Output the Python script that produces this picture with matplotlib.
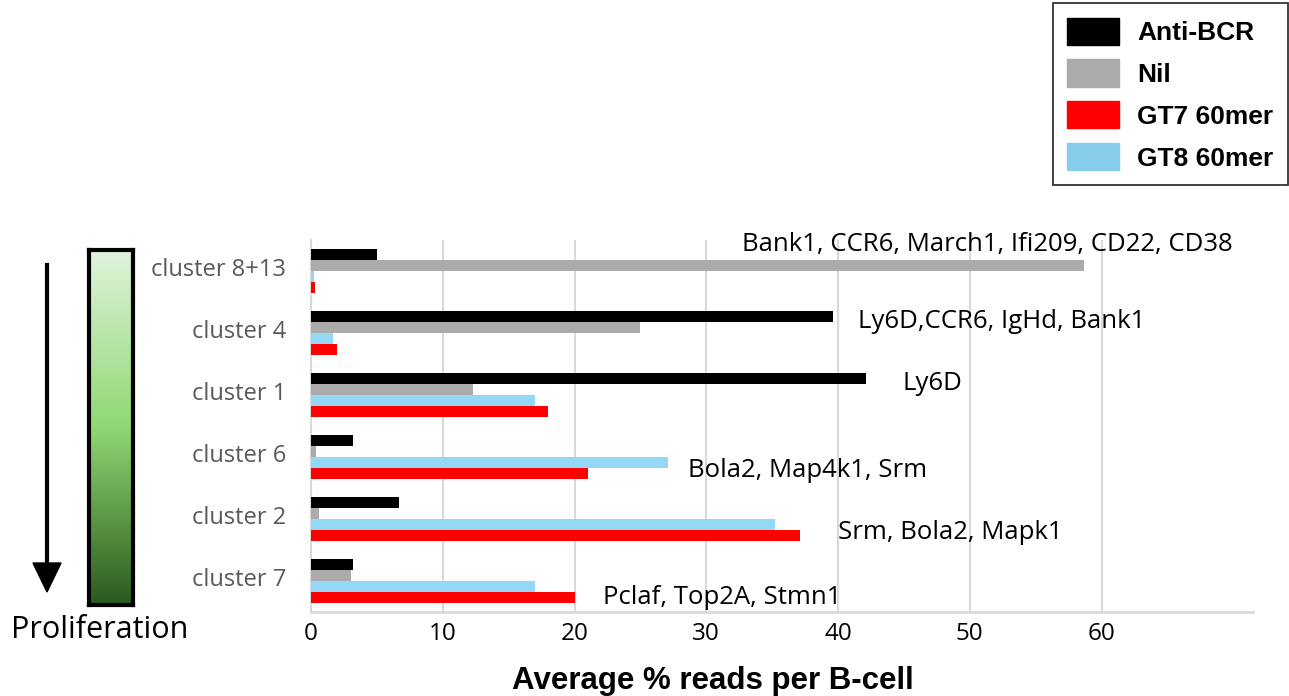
import matplotlib.pyplot as plt
import numpy as np
from matplotlib.colors import LinearSegmentedColormap
from matplotlib.patches import Patch

clusters = ["cluster 8+13", "cluster 4", "cluster 1", "cluster 6", "cluster 2", "cluster 7"]
anti_bcr = [5.0, 39.6, 42.1, 3.2, 6.7, 3.2]
nil = [58.7, 25.0, 12.3, 0.4, 0.6, 3.0]
gt8 = [0.2, 1.7, 17.0, 27.1, 35.2, 17.0]
gt7 = [0.3, 2.0, 18.0, 21.0, 37.1, 20.0]
genes = ["Bank1, CCR6, March1, Ifi209, CD22, CD38", "Ly6D,CCR6, IgHd, Bank1", "Ly6D",
         "Bola2, Map4k1, Srm", "Srm, Bola2, Mapk1", "Pclaf, Top2A, Stmn1"]
gene_x = [51.3, 52.4, 47.2, 37.7, 48.5, 31.2]
gene_dy = [-0.42, -0.18, -0.19, 0.21, 0.21, 0.26]

plt.rcParams['font.family'] = ['Open Sans', 'DejaVu Sans']

fig = plt.figure(figsize=(12.89, 6.96), dpi=100)
ax = fig.add_axes([0.2413, 0.1207, 0.7308, 0.5345])

y = np.arange(len(clusters))
h = 0.177
series = [(anti_bcr, "#000000"), (nil, "#ababab"), (gt8, "#93d9f5"), (gt7, "#ff0000")]
for i, (vals, col) in enumerate(series):
    ax.barh(y + (i - 1.5) * h, vals, height=h, color=col, zorder=3)

for gx, gy, txt in zip(gene_x, y + np.array(gene_dy), genes):
    ax.text(gx, gy, txt, ha="center", va="center", fontsize=18.5, color="black")

ax.set_ylim(len(clusters) - 0.5, -0.5)
ax.set_xlim(0, 71.5)
ax.set_xticks(range(0, 61, 10))
ax.set_yticks(y - 0.06)
ax.set_yticklabels(clusters, color="#595959", fontsize=17)
ax.tick_params(axis="x", labelsize=17.5, length=0, pad=7)
ax.tick_params(axis="y", length=0, pad=18)
ax.grid(axis="x", color="#d9d9d9", linewidth=1.5, zorder=0)
for s in ["top", "right"]:
    ax.spines[s].set_visible(False)
ax.spines["left"].set_color("#d9d9d9")
ax.spines["left"].set_linewidth(1.5)
ax.spines["bottom"].set_color("#d9d9d9")
ax.spines["bottom"].set_linewidth(2)
ax.set_xlabel("Average % reads per B-cell", fontsize=22.5, fontweight="bold",
              family="Liberation Sans")
ax.xaxis.set_label_coords(0.427, -0.145)

# gradient bar
gax = fig.add_axes([89 / 1289, 1 - 605 / 696, 44 / 1289, 355 / 696])
cmap = LinearSegmentedColormap.from_list("g", ["#e0f3dc", "#8fd873", "#2a5a1e"])
gax.imshow(np.linspace(0, 1, 256).reshape(-1, 1), aspect="auto", cmap=cmap)
gax.set_xticks([])
gax.set_yticks([])
for s in gax.spines.values():
    s.set_linewidth(3)

fig.add_artist(plt.Line2D([47 / 1289, 47 / 1289], [1 - 265 / 696, 1 - 565 / 696], color="black", linewidth=3))
fig.patches.append(plt.Polygon([[33 / 1289, 1 - 563 / 696], [61 / 1289, 1 - 563 / 696], [47 / 1289, 1 - 592 / 696]],
                               closed=True, color="black", transform=fig.transFigure))
fig.text(100 / 1289, 1 - 630 / 696, "Proliferation", ha="center", va="center", fontsize=22)

handles = [Patch(color="#000000"), Patch(color="#ababab"), Patch(color="#ff0000"), Patch(color="#87ceeb")]
labels = ["Anti-BCR", "Nil", "GT7 60mer", "GT8 60mer"]
leg = fig.legend(handles, labels, loc="upper right", bbox_to_anchor=(1288 / 1289, 1 - 3 / 696),
                 prop={"family": "Liberation Sans", "weight": "bold", "size": 19},
                 frameon=True, fancybox=False, edgecolor="black", handlelength=1.95, handleheight=1.2,
                 labelspacing=0.55, borderpad=0.55, handletextpad=0.7, borderaxespad=0)
leg.get_frame().set_linewidth(1.3)

fig.savefig("out.png", dpi=100)
